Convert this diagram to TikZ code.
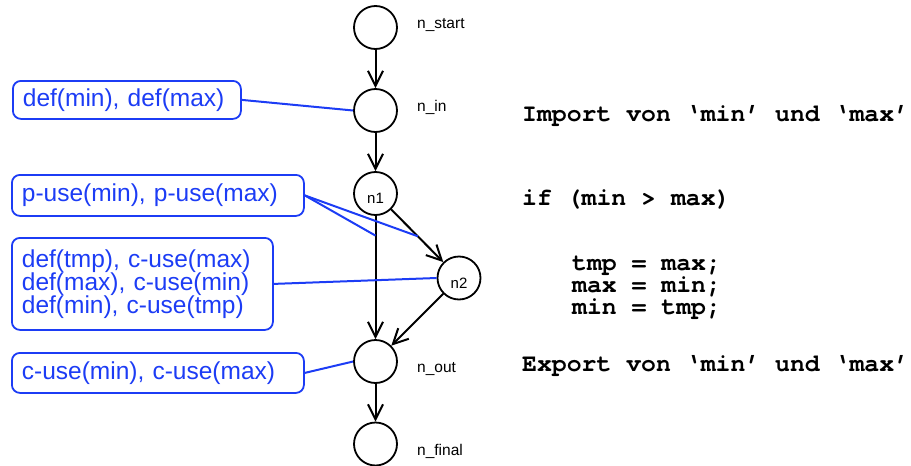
\documentclass[tikz,border=0pt]{standalone}
\usepackage{fontspec}
\setmainfont{Liberation Sans}
\newfontfamily\codefont{TeX Gyre Cursor}
\usetikzlibrary{arrows.meta}
\definecolor{useblue}{RGB}{28,60,245}
\newcommand\codestyle{\codefont\bfseries\fontsize{24.8}{22}\selectfont\setlength{\lineskiplimit}{-30pt}\setlength{\lineskip}{0pt}}
\tikzset{
  vertex/.style={circle, draw=black, line width=1.8pt, minimum size=43pt, inner sep=0pt, font=\fontsize{15}{15}\selectfont},
  lowtext/.style={text height=20pt, text depth=0pt},
  vlabel/.style={anchor=base west, inner sep=0pt, font=\fontsize{15.5}{15.5}\selectfont},
  flow/.style={line width=2pt, -{Straight Barb[length=15pt,width=15pt]}},
  dubox/.style={draw=useblue, text=useblue, line width=1.8pt, rounded corners=8pt, anchor=north west,
    inner xsep=10pt, inner ysep=0pt, align=left, font=\fontsize{24.5}{23}\selectfont},
  duline/.style={draw=useblue, line width=2pt},
  code/.style={anchor=base west, inner sep=0pt, align=left, font={\codestyle}}
}
\begin{document}
\begin{tikzpicture}[x=1pt, y=-1pt]
\useasboundingbox (0,0) rectangle (911,466);

% control flow graph
\node[vertex] (nstart) at (375.5,27.5) {};
\node[vertex] (nin)    at (375.5,110.5) {};
\node[vertex, lowtext] (n1) at (375.5,193.5) {n1};
\node[vertex, lowtext] (n2) at (459,278) {n2};
\node[vertex] (nout)   at (375.5,361.5) {};
\node[vertex] (nfinal) at (375.5,444) {};

\node[vlabel] (lstart) at (417,28)  {n\_start};
\node[vlabel] (lin)    at (417,111) {n\_in};
\node[vlabel] (lout)   at (417,372) {n\_out};
\node[vlabel] (lfinal) at (417,455) {n\_final};

\draw[flow] (nstart) -- (nin);
\draw[flow] (nin) -- (n1);
\draw[flow] (n1) -- coordinate[pos=0.16] (branchT) (nout);
\draw[flow] (n1) -- coordinate[pos=0.51] (branchF) (n2);
\draw[flow] (n2) -- (nout);
\draw[flow] (nout) -- (nfinal);

% def/use annotations
\node[dubox, minimum width=228pt, minimum height=38pt, text width=208pt] (b1) at (12,80) {def(min), def(max)};
\node[dubox, minimum width=292pt, minimum height=41pt, text width=272pt] (b2) at (11,174) {p-use(min), p-use(max)};
\node[dubox, minimum width=261pt, minimum height=92pt, text width=241pt] (b3) at (11,237)
  {def(tmp), c-use(max)\\def(max), c-use(min)\\def(min), c-use(tmp)};
\node[dubox, minimum width=292pt, minimum height=40pt, text width=272pt] (b4) at (11,352) {c-use(min), c-use(max)};

\draw[duline] (b1.east) -- (nin.west);
\draw[duline] (b2.east) -- (branchT);
\draw[duline] (b2.east) -- (branchF);
\draw[duline] (b3.east) -- (n2.west);
\draw[duline] (b4.east) -- (nout.west);

% source code (the base anchor of the three-line body is its last line)
\node[code] (cimport) at (522,121) {Import von ‘min’ und ‘max’};
\node[code] (cif)     at (522,205) {if (min > max)};
\node[code] (cbody)   at (572,314) {tmp = max;\\max = min;\\min = tmp;};
\node[code] (cexport) at (522,371) {Export von ‘min’ und ‘max’};
\end{tikzpicture}
\end{document}
